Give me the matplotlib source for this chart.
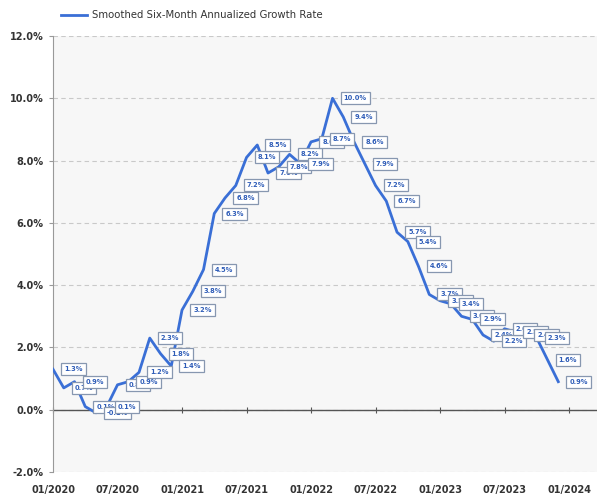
import matplotlib
matplotlib.use("Agg")
import matplotlib.pyplot as plt
import numpy as np

# smoothed six-month annualized growth rate, monthly 01/2020 .. 12/2023 (%)
growth = [1.3, 0.7, 0.9, 0.1, -0.1, 0.1, 0.8, 0.9, 1.2, 2.3, 1.8, 1.4,
          3.2, 3.8, 4.5, 6.3, 6.8, 7.2, 8.1, 8.5, 7.6, 7.8, 8.2, 7.9,
          8.6, 8.7, 10.0, 9.4, 8.6, 7.9, 7.2, 6.7, 5.7, 5.4, 4.6, 3.7,
          3.5, 3.4, 3.0, 2.9, 2.4, 2.2, 2.6, 2.5, 2.4, 2.3, 1.6, 0.9]
month_idx = np.arange(len(growth))

tick_months = [0, 6, 12, 18, 24, 30, 36, 42, 48]
tick_labels = ["01/2020", "07/2020", "01/2021", "07/2021", "01/2022",
               "07/2022", "01/2023", "07/2023", "01/2024"]
y_ticks = [-2, 0, 2, 4, 6, 8, 10, 12]

line_color = "#3a6fd6"
text_color = "#333333"

plt.rcParams["font.family"] = "DejaVu Sans"

fig = plt.figure(figsize=(5.97, 4.97), dpi=100)
ax = fig.add_axes([53/597, 25/497, 544/597, 436/497])
ax.set_facecolor("#f7f7f7")

y_lo, y_hi = -2, 12
ax.set_ylim(y_lo, y_hi)
ax.set_xlim(0, 50.6)

ax.plot(month_idx, growth, color=line_color, lw=2.0, zorder=3,
        solid_joinstyle="round", label="Smoothed Six-Month Annualized Growth Rate")

# boxed value labels to the right of each point
for x, v in zip(month_idx, growth):
    ax.annotate(f"{v:.1f}%", (x, v), xytext=(8, 0), textcoords="offset points",
                ha="left", va="center", fontsize=4.8, fontweight="bold",
                color="#2f5db8", zorder=4,
                bbox=dict(boxstyle="square,pad=0.45", fc="white",
                          ec="#8797b0", lw=0.9))

# y axis
ax.set_yticks(y_ticks)
ax.set_yticklabels([f"{t:.1f}%" for t in y_ticks])
ax.yaxis.grid(True, linestyle=(0, (4, 3)), color="#c9c9c9", lw=0.8)
ax.set_axisbelow(True)
ax.tick_params(axis="y", length=3, color="#999999", labelsize=7,
               labelcolor=text_color, pad=4)
for lab in ax.get_yticklabels():
    lab.set_fontweight("bold")

for side in ["top", "right", "bottom"]:
    ax.spines[side].set_visible(False)
ax.spines["left"].set_color("#999999")

# x labels along the bottom
ax.set_xticks(tick_months)
ax.set_xticklabels(tick_labels)
ax.tick_params(axis="x", length=0, labelsize=7, labelcolor=text_color, pad=9)
for lab in ax.get_xticklabels():
    lab.set_fontweight("bold")

# zero line with its own tick marks
ax.axhline(0, color="#555555", lw=1.0, zorder=2)
sec = ax.secondary_xaxis((0 - y_lo) / (y_hi - y_lo))
sec.set_xticks(tick_months)
sec.tick_params(direction="inout", length=5, color="#555555", labelbottom=False)
sec.spines["bottom"].set_visible(False)

fig.legend(loc="upper left", bbox_to_anchor=(52/597, 1 - 1/497), frameon=False,
           fontsize=7.3, handlelength=2.6, handletextpad=0.4, labelcolor=text_color)

fig.savefig("out.png", dpi=100)
